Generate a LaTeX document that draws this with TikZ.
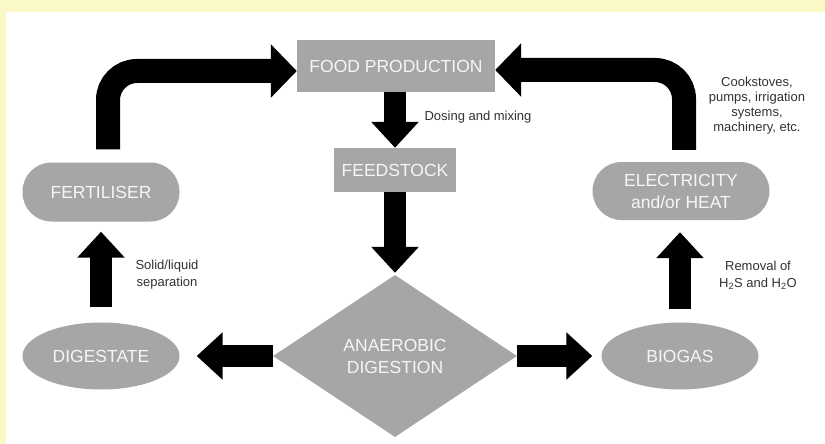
\documentclass[tikz,border=0pt]{standalone}
\usepackage{fontspec}
\setmainfont{Liberation Sans}
\usepackage{xcolor}
\usetikzlibrary{positioning,arrows.meta,shapes.geometric}
\definecolor{boxgray}{RGB}{166,166,166}
\definecolor{boxtext}{RGB}{246,246,246}
\definecolor{notetext}{RGB}{50,50,50}
\definecolor{bandyellow}{RGB}{250,248,196}

\begin{document}
\begin{tikzpicture}[x=1pt,y=-1pt,every node/.style={font=\fontsize{17.5}{22}\selectfont},
  box/.style={fill=boxgray,text=boxtext,inner sep=0pt,align=center},
  note/.style={font=\fontsize{13}{17}\selectfont,text=notetext,align=center},
  bigarrow/.style={line width=22pt,-{Triangle[width=46pt,length=26pt]}},
  looparrow/.style={line width=24pt,-{Triangle[width=52pt,length=26pt]},rounded corners=29pt}]
% page and yellow frame
\fill[white] (0,0) rectangle (825,444);
\fill[bandyellow] (0,0) rectangle (825,12);
\fill[bandyellow] (0,0) rectangle (6,444);
\useasboundingbox (0,0) rectangle (825,444);

\node[box,minimum width=198pt,minimum height=52pt] (food) at (396,66) {FOOD PRODUCTION};
\node[box,minimum width=122pt,minimum height=44pt] (feed) at (395,170) {FEEDSTOCK};
\node[box,diamond,aspect=1.5,minimum width=244pt,minimum height=162pt] (ad) at (395,356) {ANAEROBIC\\DIGESTION};
\node[box,ellipse,minimum width=157pt,minimum height=67pt] (dig) at (101,356) {DIGESTATE};
\node[box,ellipse,minimum width=157pt,minimum height=67pt] (gas) at (680,356) {BIOGAS};
\node[box,rounded corners=29pt,minimum width=157pt,minimum height=59pt] (fert) at (101,192) {FERTILISER};
\node[box,rounded corners=29pt,minimum width=177pt,minimum height=58pt] (elec) at (681,191) {ELECTRICITY\\and/or HEAT};

% straight arrows
\draw[bigarrow] (feed.north |- food.south) -- (feed.north);
\draw[bigarrow,shorten >=2pt] (feed.south) -- (ad.north);
\draw[bigarrow,shorten >=17pt] (ad.west) -- (dig.east);
\draw[bigarrow,shorten >=9pt] (ad.east) -- (gas.west);
\draw[bigarrow,shorten <=15pt,shorten >=10pt] (dig.north) -- (fert.south);
\draw[bigarrow,shorten <=13pt,shorten >=12pt] (gas.north) -- (gas.north |- elec.south);

% loops back to food production
\draw[looparrow,shorten <=13pt] ([xshift=7pt]fert.north) |- ([yshift=-5pt]food.west);
\draw[looparrow,shorten <=12pt] ([xshift=3pt]elec.north) |- ([yshift=-4pt]food.east);

\node[note] (dose) at (478,117) {Dosing and mixing};
\node[note,font=\fontsize{13}{15}\selectfont] (use) at (757,106) {Cookstoves,\\pumps, irrigation\\systems,\\machinery, etc.};
\node[note] (sep) at (167,275) {Solid/liquid\\separation};
\node[note] (scrub) at (758,275) {Removal of\\H\textsubscript{2}S and H\textsubscript{2}O};
\end{tikzpicture}
\end{document}
